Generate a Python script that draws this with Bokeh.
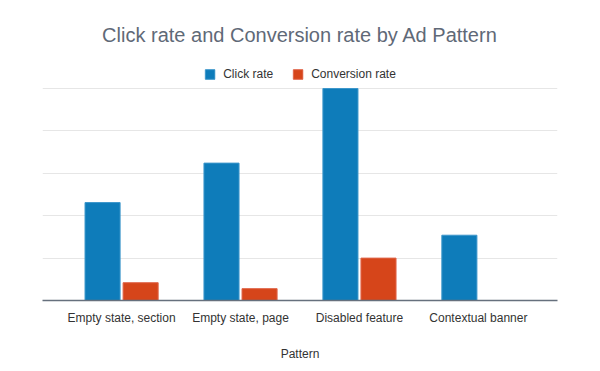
from bokeh.plotting import figure
from bokeh.models import ColumnDataSource, FactorRange, Legend, LegendItem, Range1d, FixedTicker
from bokeh.transform import dodge
from bokeh.embed import file_html
from bokeh.resources import INLINE

patterns = ["Empty state, section", "Empty state, page", "Disabled feature", "Contextual banner"]
click_rate = [2.31, 3.24, 5.0, 1.54]
conversion_rate = [0.42, 0.28, 1.0, 0.0]
series_names = ["Click rate", "Conversion rate"]
colors = ["#0e7cba", "#d6451a"]
grid_values = [0, 1, 2, 3, 4, 5]

src = ColumnDataSource(data=dict(pattern=patterns, click=click_rate, conv=conversion_rate))

p = figure(
    x_range=FactorRange(factors=patterns, range_padding=0.165, range_padding_units="absolute"),
    y_range=Range1d(0, 5 * 250 / 212),
    frame_width=515, frame_height=250,
    min_border_left=42, min_border_right=35, min_border_top=50, min_border_bottom=63,
    output_backend="svg", toolbar_location=None,
    title="Click rate and Conversion rate by Ad Pattern",
)

r1 = p.vbar(x=dodge("pattern", -0.16, range=p.x_range), top="click", width=0.295, source=src,
            fill_color=colors[0], line_color="#3d97cb", line_width=1)
r2 = p.vbar(x=dodge("pattern", 0.16, range=p.x_range), top="conv", width=0.295, source=src,
            fill_color=colors[1], line_color="#e0664a", line_width=1)

p.title.align = "center"
p.title.text_font = "Liberation Sans"
p.title.text_font_size = "20px"
p.title.text_font_style = "normal"
p.title.text_color = "#5f6977"

legend = Legend(items=[LegendItem(label=series_names[0], renderers=[r1]),
                       LegendItem(label=series_names[1], renderers=[r2])],
                orientation="horizontal", location="top",
                glyph_width=12, glyph_height=12, label_standoff=8, spacing=18,
                label_text_font="Liberation Sans", label_text_font_size="12px",
                label_text_color="#333333", border_line_color=None,
                background_fill_alpha=0, padding=4, margin=17)
p.add_layout(legend)

p.yaxis.visible = False
p.ygrid.ticker = FixedTicker(ticks=grid_values)
p.ygrid.grid_line_color = "#e6e6e6"
p.xgrid.grid_line_color = None
p.outline_line_color = None

xa = p.xaxis[0]
xa.axis_label = "Pattern"
xa.axis_label_text_font = "Liberation Sans"
xa.axis_label_text_font_size = "12px"
xa.axis_label_text_font_style = "normal"
xa.axis_label_text_color = "#333333"
xa.axis_label_standoff = 19
xa.major_label_text_font = "Liberation Sans"
xa.major_label_text_font_size = "12px"
xa.major_label_text_color = "#333333"
xa.major_label_standoff = 4
xa.major_tick_line_color = None
xa.minor_tick_line_color = None
xa.axis_line_color = "#66707d"
xa.axis_line_width = 1.5

open("out.html", "w").write(file_html(p, INLINE))
